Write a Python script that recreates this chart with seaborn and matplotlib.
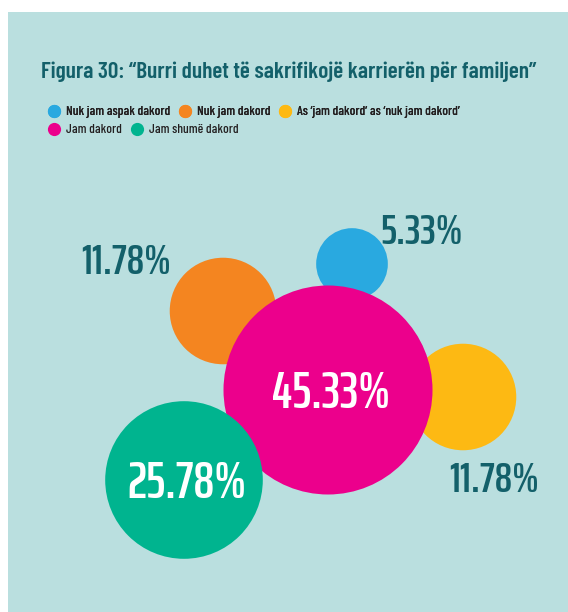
import matplotlib
matplotlib.use("Agg")
import matplotlib.pyplot as plt
from matplotlib.lines import Line2D
from matplotlib.patches import Rectangle
import pandas as pd
import seaborn as sns

# Chart data
categories = [
    "Nuk jam aspak dakord",
    "Nuk jam dakord",
    "As \u2018jam dakord\u2019 as \u2018nuk jam dakord\u2019",
    "Jam dakord",
    "Jam shum\u00eb dakord",
]
values = [5.33, 11.78, 11.78, 45.33, 25.78]
colors = ["#29a9e0", "#f48520", "#fdb913", "#ec008c", "#00b48f"]
title = "Figura 30: \u201cBurri duhet t\u00eb sakrifikoj\u00eb karrier\u00ebn p\u00ebr familjen\u201d"

# Bubble layout (pixel positions on the 568x612 canvas)
centers_x = [352, 223, 463, 328, 184]
centers_y = [264, 311, 397, 390, 480]
label_x = [422, 126, 494, 331, 187]
label_y = [232, 262, 480, 393, 483]
label_inside = [False, False, False, True, True]

W, H, DPI = 568, 612, 100
BG = "#badfdf"
DARK = "#13606a"
FONT = ["Barlow Condensed", "DejaVu Sans"]
NUM_FONT = ["Saira ExtraCondensed", "Barlow Condensed", "DejaVu Sans"]

sns.set_theme(style="white")
plt.rcParams["font.family"] = FONT

df = pd.DataFrame({"cat": categories, "value": values, "x": centers_x, "y": centers_y})

fig = plt.figure(figsize=(W / DPI, H / DPI), dpi=DPI)
fig.patch.set_facecolor("white")
fig.patches.append(Rectangle((8 / W, 0), 1, (H - 12) / H, transform=fig.transFigure,
                             facecolor=BG, edgecolor="none", zorder=-1))

ax = fig.add_axes([0, 0, 1, 1])
ax.set_xlim(0, W)
ax.set_ylim(H, 0)
ax.set_aspect("equal")
ax.axis("off")
ax.patch.set_alpha(0)

# marker area proportional to value; biggest bubble radius ~104.5 px
max_diam_pt = 2 * 104.5 * 72 / DPI
sns.scatterplot(data=df, x="x", y="y", hue="cat", palette=dict(zip(categories, colors)),
                size="value", sizes=(0, max_diam_pt ** 2), size_norm=(0, max(values)),
                linewidth=0, alpha=1, legend=False, ax=ax)

for v, lx, ly, inside in zip(values, label_x, label_y, label_inside):
    ax.text(lx, ly, f"{v:.2f}%", ha="center", va="center", family=NUM_FONT,
            fontsize=37 if inside else 31, fontweight=600,
            color="white" if inside else DARK)

fig.text(289 / W, 1 - 72 / H, title, ha="center", va="center",
         fontsize=16.8, fontweight=600, color=DARK)

handles = [Line2D([], [], marker="o", linestyle="", markersize=9.5,
                  markerfacecolor=c, markeredgewidth=0) for c in colors]
leg_kw = dict(loc="center left", frameon=False, handlelength=0.8, handletextpad=0.5,
              columnspacing=0.7, borderpad=0, borderaxespad=0,
              labelcolor="#231f20", prop={"weight": 500, "size": 9.6})
leg1 = fig.legend(handles[:3], categories[:3], bbox_to_anchor=(49 / W, 1 - 112 / H),
                  ncol=3, **leg_kw)
fig.add_artist(leg1)
fig.legend(handles[3:], categories[3:], bbox_to_anchor=(49 / W, 1 - 130 / H),
           ncol=2, **leg_kw)

fig.savefig("out.png", dpi=DPI)
